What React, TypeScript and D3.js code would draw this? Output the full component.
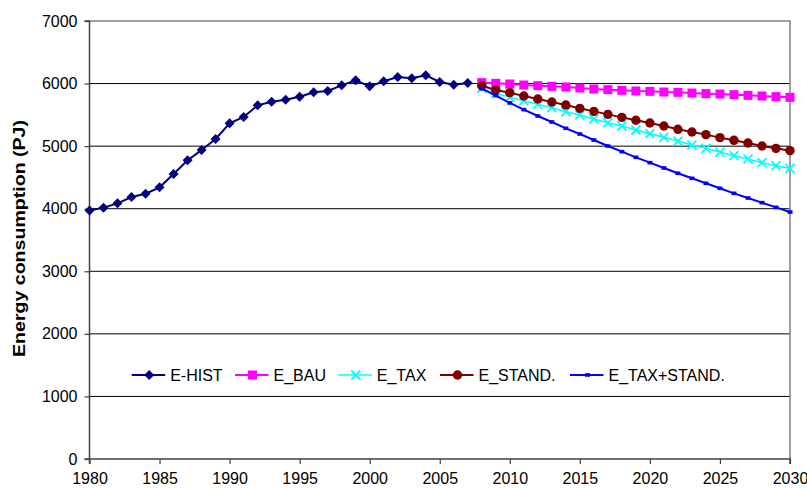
import { useEffect, useRef } from 'react';
import * as d3 from 'd3';

// historical energy consumption, 1980..2007
const histStart = 1980;
const histValues = [
  3970, 4017, 4086, 4187, 4240, 4342, 4555, 4773, 4938, 5114,
  5365, 5466, 5652, 5710, 5743, 5790, 5860, 5881, 5972, 6052,
  5956, 6036, 6105, 6084, 6132, 6025, 5982, 6009,
];

// scenarios, 2008..2030
const projStart = 2008;
const bauValues = [
  6015, 6004, 5993, 5977, 5966, 5956, 5945, 5929, 5913, 5903, 5892, 5881,
  5876, 5865, 5860, 5849, 5839, 5833, 5823, 5812, 5801, 5791, 5780,
];
const taxValues = [
  5924, 5844, 5780, 5727, 5668, 5615, 5551, 5498, 5434, 5375, 5322, 5258,
  5200, 5141, 5082, 5018, 4965, 4906, 4848, 4795, 4736, 4688, 4645,
];
const standValues = [
  5966, 5897, 5855, 5801, 5754, 5706, 5658, 5604, 5556, 5508, 5460, 5413,
  5370, 5322, 5269, 5226, 5184, 5136, 5093, 5050, 5002, 4965, 4928,
];
const taxStandValues = [
  5919, 5807, 5690, 5583, 5482, 5386, 5285, 5194, 5098, 5002, 4912, 4821,
  4736, 4651, 4566, 4486, 4406, 4326, 4246, 4171, 4097, 4022, 3947,
];

const xTicks = [1980, 1985, 1990, 1995, 2000, 2005, 2010, 2015, 2020, 2025, 2030];
const yTicks = [0, 1000, 2000, 3000, 4000, 5000, 6000, 7000];

type Marker = 'diamond' | 'square' | 'cross' | 'circle' | 'dash';

const series: { name: string; start: number; values: number[]; color: string; marker: Marker }[] = [
  { name: 'E-HIST', start: histStart, values: histValues, color: '#000080', marker: 'diamond' },
  { name: 'E_BAU', start: projStart, values: bauValues, color: '#FF00FF', marker: 'square' },
  { name: 'E_TAX', start: projStart, values: taxValues, color: '#00FFFF', marker: 'cross' },
  { name: 'E_STAND.', start: projStart, values: standValues, color: '#800000', marker: 'circle' },
  { name: 'E_TAX+STAND.', start: projStart, values: taxStandValues, color: '#0000FF', marker: 'dash' },
];

const FONT = '"Liberation Sans", Arial, sans-serif';

function drawMarker(g: d3.Selection<SVGGElement, unknown, null, undefined>, kind: Marker, color: string) {
  if (kind === 'diamond') {
    g.append('path').attr('d', 'M0,-5L5,0L0,5L-5,0Z').attr('fill', color);
  } else if (kind === 'square') {
    g.append('rect').attr('x', -4.5).attr('y', -4.5).attr('width', 9).attr('height', 9).attr('fill', color);
  } else if (kind === 'cross') {
    g.append('path').attr('d', 'M-4.5,-4.5L4.5,4.5M-4.5,4.5L4.5,-4.5').attr('stroke', color).attr('stroke-width', 1.8).attr('fill', 'none');
  } else if (kind === 'circle') {
    g.append('circle').attr('r', 4.7).attr('fill', color);
  } else {
    g.append('rect').attr('x', -2.5).attr('y', -1.8).attr('width', 5).attr('height', 3.6).attr('fill', color);
  }
}

export default function App() {
  const svgRef = useRef<SVGSVGElement>(null);

  useEffect(() => {
    if (!svgRef.current) return;
    const width = 807;
    const height = 488;

    const svg = d3.select(svgRef.current);
    svg.selectAll('*').remove();
    svg.attr('width', width).attr('height', height).style('font-family', FONT);

    const x = d3.scaleLinear().domain([1980, 2030]).range([89.5, 790]);
    const y = d3.scaleLinear().domain([0, 7000]).range([459, 21]);

    svg.append('rect').attr('width', width).attr('height', height).attr('fill', '#fff');

    // gridlines
    svg.append('g')
      .selectAll('line')
      .data(yTicks.filter(t => t > 0 && t < 7000))
      .enter()
      .append('line')
      .attr('x1', x(1980)).attr('x2', x(2030))
      .attr('y1', d => y(d)).attr('y2', d => y(d))
      .attr('stroke', '#000').attr('stroke-width', 1);

    // plot border (top / right)
    svg.append('path')
      .attr('d', `M${x(1980)},${y(7000)}H${x(2030)}V${y(0)}`)
      .attr('fill', 'none').attr('stroke', '#808080').attr('stroke-width', 1.5);

    // axes
    const yAxis = svg.append('g').attr('transform', `translate(${x(1980)},0)`)
      .call(d3.axisLeft(y).tickValues(yTicks).tickSize(5).tickPadding(7).tickFormat(d3.format('d')));
    const xAxis = svg.append('g').attr('transform', `translate(0,${y(0)})`)
      .call(d3.axisBottom(x).tickValues(xTicks).tickSize(5).tickPadding(9).tickFormat(d3.format('d')));
    [yAxis, xAxis].forEach(ax => {
      ax.select('.domain').attr('stroke', '#404040').attr('stroke-width', 1.5);
      ax.selectAll('.tick line').attr('stroke', '#404040').attr('stroke-width', 1.2);
      ax.selectAll('.tick text').attr('fill', '#000').style('font-size', '16px').style('font-family', FONT);
    });
    xAxis.select('.domain').attr('d', `M${x(1980)},5V0H${x(2030)}V5`);
    yAxis.select('.domain').attr('d', `M-5,${y(7000)}H0V${y(0)}H-5`);

    // axis title
    svg.append('text')
      .attr('transform', `translate(25,238.5) rotate(-90)`)
      .attr('text-anchor', 'middle')
      .attr('textLength', 237)
      .attr('lengthAdjust', 'spacingAndGlyphs')
      .style('font-size', '17px')
      .style('font-weight', 'bold')
      .text('Energy consumption (PJ)');

    // series
    const line = d3.line<[number, number]>().x(d => x(d[0])).y(d => y(d[1]));
    series.forEach(s => {
      const pts: [number, number][] = s.values.map((v, i) => [s.start + i, v]);
      const g = svg.append('g');
      g.append('path')
        .attr('d', line(pts))
        .attr('fill', 'none')
        .attr('stroke', s.color)
        .attr('stroke-width', s.marker === 'cross' ? 1.6 : 2);
      pts.forEach(p => {
        const m = g.append('g').attr('transform', `translate(${x(p[0])},${y(p[1])})`);
        drawMarker(m, s.marker, s.color);
      });
    });

    // legend
    const legendX = [131.7, 235, 338.3, 440, 570];
    const legend = svg.append('g').attr('transform', 'translate(0,375)');
    series.forEach((s, i) => {
      const lg = legend.append('g').attr('transform', `translate(${legendX[i]},0)`);
      lg.append('line').attr('x1', 0).attr('x2', 33.5).attr('y1', 0).attr('y2', 0)
        .attr('stroke', s.color).attr('stroke-width', s.marker === 'cross' ? 1.6 : 2);
      const m = lg.append('g').attr('transform', 'translate(17.5,0)');
      drawMarker(m, s.marker, s.color);
      lg.append('text').attr('x', 38.5).attr('y', 5.5)
        .style('font-size', '16px').attr('fill', '#000').text(s.name);
    });
  }, []);

  return (
    <div style={{ position: 'absolute', left: 0, top: 0 }}>
      <svg ref={svgRef} style={{ display: 'block' }} />
    </div>
  );
}
